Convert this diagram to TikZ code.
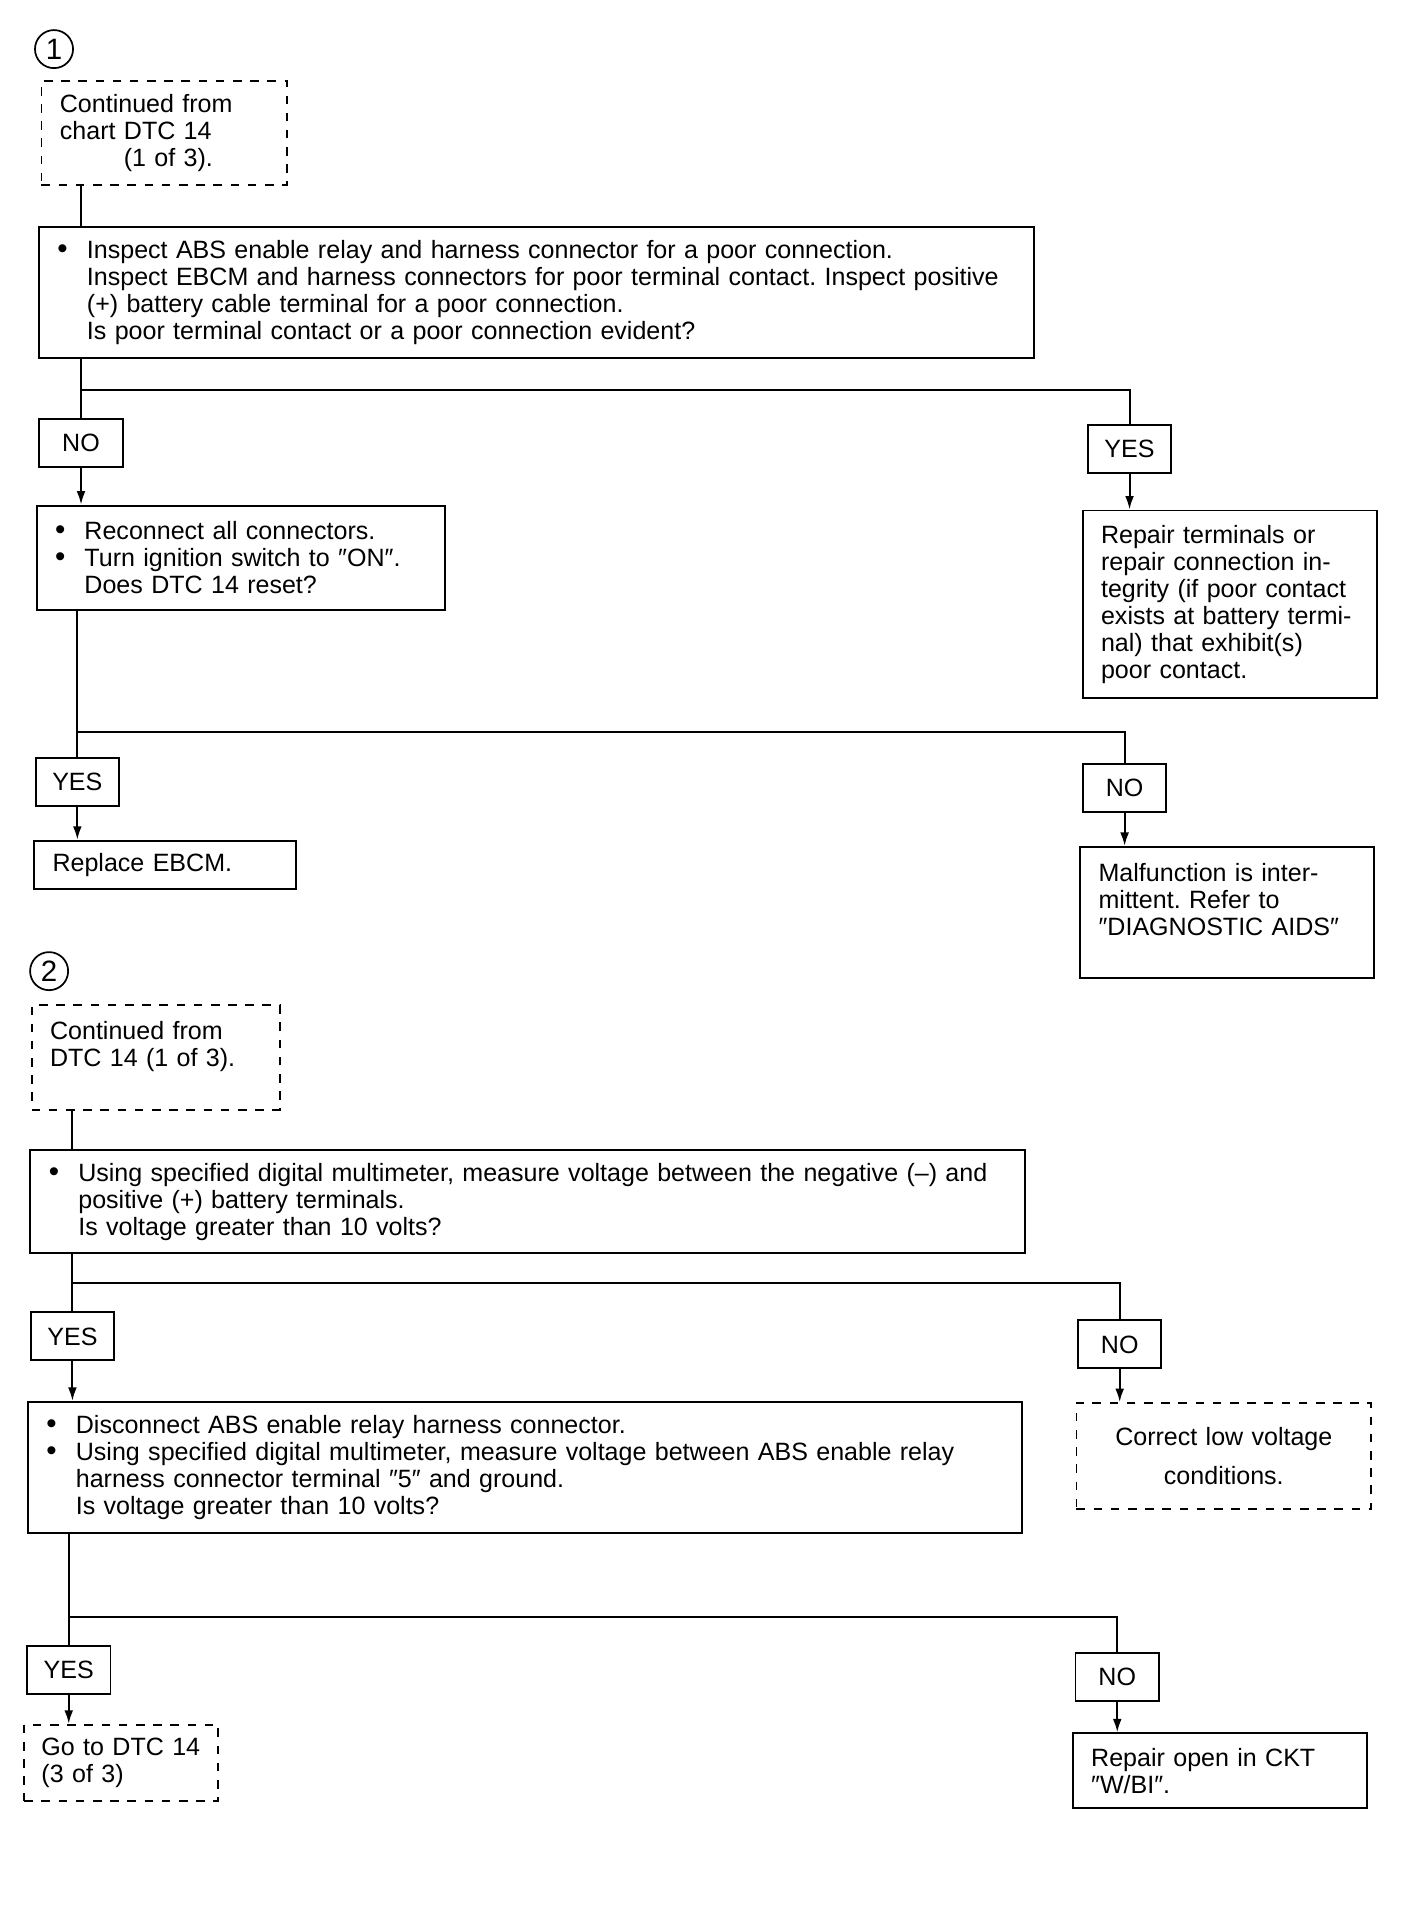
\documentclass[tikz,border=0pt]{standalone}
\usepackage{fontspec}
\setmainfont{Liberation Sans}
\usetikzlibrary{arrows.meta}

\tikzset{
  panel/.style={draw, line width=0.8pt, inner xsep=7.5pt, inner ysep=0pt, align=left, anchor=north west},
  bpanel/.style={panel, inner xsep=4pt},
  dpanel/.style={panel, dash pattern=on 3.5pt off 3.5pt},
  answer/.style={draw, line width=0.8pt, minimum width=34pt, minimum height=19.5pt, inner sep=0pt},
  num/.style={draw, circle, line width=0.7pt, minimum size=15.5pt, inner sep=0pt, font=\fontsize{12}{12}\selectfont},
  arr/.style={-{Latex[length=5.5pt,width=3.6pt]}}
}
\newcommand{\bulmark}{\makebox[15.5pt][l]{\hspace{3.5pt}\large\textbullet}}
\newcommand{\hangmark}{\hspace*{15.5pt}}
\frenchspacing

\begin{document}
\begin{tikzpicture}[x=0.5pt, y=-0.5pt, line width=0.8pt, font=\fontsize{10.2}{11}\selectfont]
  \useasboundingbox (0,0) rectangle (1160,1572);

  \node[num] (n1) at (44,40) {1};
  \node[dpanel, text width=85pt, minimum height=42.5pt] (cont1) at (33,65)
    {Continued from\\chart DTC 14\\\hspace*{26pt}(1 of 3).};
  \node[bpanel, text width=397pt, minimum height=53.5pt] (insp) at (31,184)
    {\bulmark Inspect ABS enable relay and harness connector for a poor connection.\\
    \hangmark Inspect EBCM and harness connectors for poor terminal contact. Inspect positive\\
    \hangmark (+) battery cable terminal for a poor connection.\\
    \hangmark Is poor terminal contact or a poor connection evident?};
  \node[answer] (no1) at (66,361) {NO};
  \node[answer] (yes1) at (920,366) {YES};
  \node[bpanel, text width=158.5pt, minimum height=42.5pt] (recon) at (29,411)
    {\bulmark Reconnect all connectors.\\
    \bulmark Turn ignition switch to ″ON″.\\
    \hangmark Does DTC 14 reset?};
  \node[panel, text width=105pt, minimum height=76.5pt] (repterm) at (881,415)
    {Repair terminals or\\repair connection in-\\tegrity (if poor contact\\exists at battery termi-\\nal) that exhibit(s)\\poor contact.};
  \node[answer] (yes2) at (63,637) {YES};
  \node[answer] (no2) at (916,642) {NO};
  \node[panel, text width=91.5pt, minimum height=19.5pt] (ebcm) at (27,684) {Replace EBCM.};
  \node[panel, text width=104.5pt, minimum height=53.5pt] (intmt) at (879,689)
    {Malfunction is inter-\\mittent. Refer to\\″DIAGNOSTIC AIDS″\\\mbox{}};

  \node[num] (n2) at (40,791) {2};
  \node[dpanel, text width=86pt, minimum height=42.5pt] (cont2) at (25,818)
    {Continued from\\DTC 14 (1 of 3).\\\mbox{}};
  \node[bpanel, text width=397pt, minimum height=42pt] (volt1) at (24,936)
    {\bulmark Using specified digital multimeter, measure voltage between the negative (--) and\\
    \hangmark positive (+) battery terminals.\\
    \hangmark Is voltage greater than 10 volts?};
  \node[answer] (yes3) at (59,1088.5) {YES};
  \node[answer] (no3) at (912,1095) {NO};
  \node[dpanel, align=center, text width=105pt, minimum height=43pt] (lowv) at (876,1142)
    {Correct low voltage\\[5pt]conditions.};
  \node[bpanel, text width=397pt, minimum height=53.5pt] (volt2) at (22,1141)
    {\bulmark Disconnect ABS enable relay harness connector.\\
    \bulmark Using specified digital multimeter, measure voltage between ABS enable relay\\
    \hangmark harness connector terminal ″5″ and ground.\\
    \hangmark Is voltage greater than 10 volts?};
  \node[answer] (yes4) at (56,1360.5) {YES};
  \node[answer] (no4) at (910,1366) {NO};
  \node[dpanel, inner xsep=7pt, text width=65pt, minimum height=31pt] (goto) at (19,1404)
    {Go to DTC 14\\(3 of 3)};
  \node[panel, text width=105pt, minimum height=30.5pt] (repopen) at (873,1411)
    {Repair open in CKT\\″W/BI″.};

  \coordinate (j1) at (66,318);
  \coordinate (j2) at (63,596);
  \coordinate (j3) at (59,1045);
  \coordinate (j4) at (56,1317);

  \draw (cont1.south -| j1) -- (insp.north -| j1);
  \draw (insp.south -| j1) -- (no1.north);
  \draw (j1) -| (yes1.north);
  \draw[arr] (no1.south) -- (recon.north -| no1);
  \draw[arr] (yes1.south) -- (repterm.north -| yes1);
  \draw (recon.south -| j2) -- (yes2.north);
  \draw (j2) -| (no2.north);
  \draw[arr] (yes2.south) -- (ebcm.north -| yes2);
  \draw[arr] (no2.south) -- (intmt.north -| no2);

  \draw (cont2.south -| j3) -- (volt1.north -| j3);
  \draw (volt1.south -| j3) -- (yes3.north);
  \draw (j3) -| (no3.north);
  \draw[arr] (yes3.south) -- (volt2.north -| yes3);
  \draw[arr] (no3.south) -- (lowv.north -| no3);
  \draw (volt2.south -| j4) -- (yes4.north);
  \draw (j4) -| (no4.north);
  \draw[arr] (yes4.south) -- (goto.north -| yes4);
  \draw[arr] (no4.south) -- (repopen.north -| no4);
\end{tikzpicture}
\end{document}
